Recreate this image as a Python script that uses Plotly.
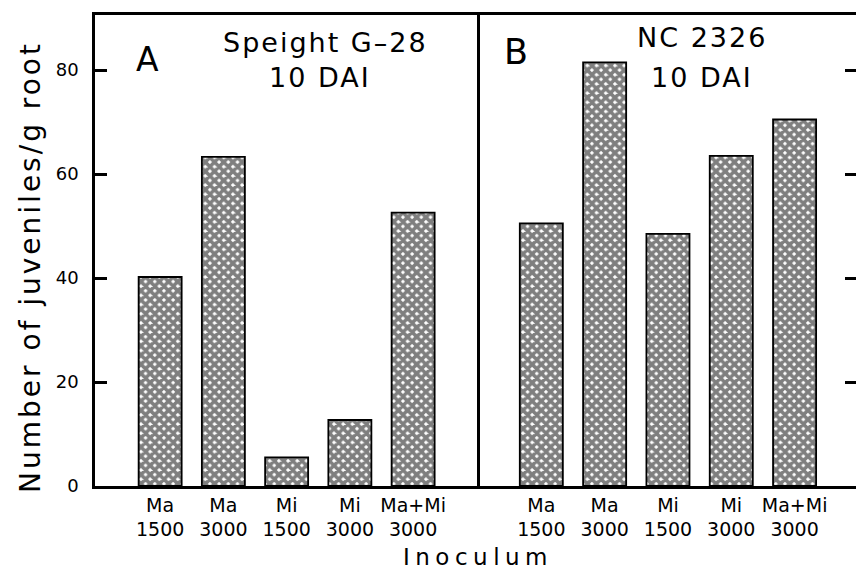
import plotly.graph_objects as go

categories = ["Ma<br>1500", "Ma<br>3000", "Mi<br>1500", "Mi<br>3000", "Ma+Mi<br>3000"]
speight_values = [40.2, 63.3, 5.5, 12.7, 52.6]
nc2326_values = [50.5, 81.5, 48.5, 63.5, 70.5]
y_ticks = [0, 20, 40, 60, 80]

FONT = "DejaVu Sans"
W, H = 856, 572
L_PX, MID_PX, R_PX = 95, 477, 856
TOP_PX, BOT_PX = 15, 486

def px(x):
    return x / W

def py(y):
    return (BOT_PX - y) / (BOT_PX - TOP_PX)

def sp(text, ls):
    return f'<span style="letter-spacing:{ls}px">{text}</span>'

bar_marker = dict(
    color="white",
    line=dict(color="black", width=1.8),
    pattern=dict(shape="x", fgcolor="black", bgcolor="white", size=6.5, solidity=0.8),
)

fig = go.Figure()
fig.add_trace(go.Bar(x=categories, y=speight_values, marker=bar_marker, xaxis="x", yaxis="y", showlegend=False))
fig.add_trace(go.Bar(x=categories, y=nc2326_values, marker=bar_marker, xaxis="x2", yaxis="y2", showlegend=False))

axis_common = dict(showgrid=False, zeroline=False, linecolor="black", linewidth=2.5)

fig.update_layout(
    width=W, height=H,
    margin=dict(l=0, r=0, t=TOP_PX, b=H - BOT_PX, pad=0),
    paper_bgcolor="white", plot_bgcolor="white",
    bargap=0.32,
    font=dict(family=FONT, color="black"),
    xaxis=dict(domain=[px(L_PX), px(MID_PX)], range=[-1.03, 5.01], showline=True, mirror=True,
               ticks="", tickfont=dict(size=19, family=FONT), anchor="y", **axis_common),
    xaxis2=dict(domain=[px(MID_PX), 1.0], range=[-1.016, 4.97], showline=True, mirror=True,
                ticks="", tickfont=dict(size=19, family=FONT), anchor="y2", **axis_common),
    yaxis=dict(domain=[0, 1], range=[0, 90.6], showline=True, mirror=True, anchor="x",
               tickvals=y_ticks, ticks="inside", ticklen=12, tickwidth=2.5, tickcolor="black",
               tickfont=dict(size=18, family=FONT), ticklabelstandoff=10, **axis_common),
    yaxis2=dict(domain=[0, 1], range=[0, 90.6], showline=False, anchor="x2", side="right",
                tickvals=y_ticks, ticks="inside", ticklen=11, tickwidth=2.5, tickcolor="black",
                showticklabels=False, showgrid=False, zeroline=False),
)

ann = [
    dict(text="A", x=px(147), y=py(60), font=dict(size=33)),
    dict(text=sp("Speight G–28", 2), x=px(325), y=py(43), font=dict(size=27)),
    dict(text=sp("10 DAI", 2), x=px(320), y=py(78), font=dict(size=27)),
    dict(text="B", x=px(516), y=py(52), font=dict(size=35)),
    dict(text=sp("NC 2326", 2), x=px(702), y=py(37), font=dict(size=27)),
    dict(text=sp("10 DAI", 2), x=px(702), y=py(78), font=dict(size=27)),
    dict(text=sp("Inoculum", 5.5), x=px(478), y=py(557), font=dict(size=23)),
    dict(text=sp("Number of juveniles/g root", 3.0), x=px(30), y=py(267), font=dict(size=28), textangle=-90),
]
for a in ann:
    fig.add_annotation(xref="paper", yref="paper", showarrow=False, xanchor="center", yanchor="middle",
                       font=dict(family=FONT, color="black", size=a["font"]["size"]),
                       text=a["text"], x=a["x"], y=a["y"], textangle=a.get("textangle", 0))

fig.write_html("out.html")
